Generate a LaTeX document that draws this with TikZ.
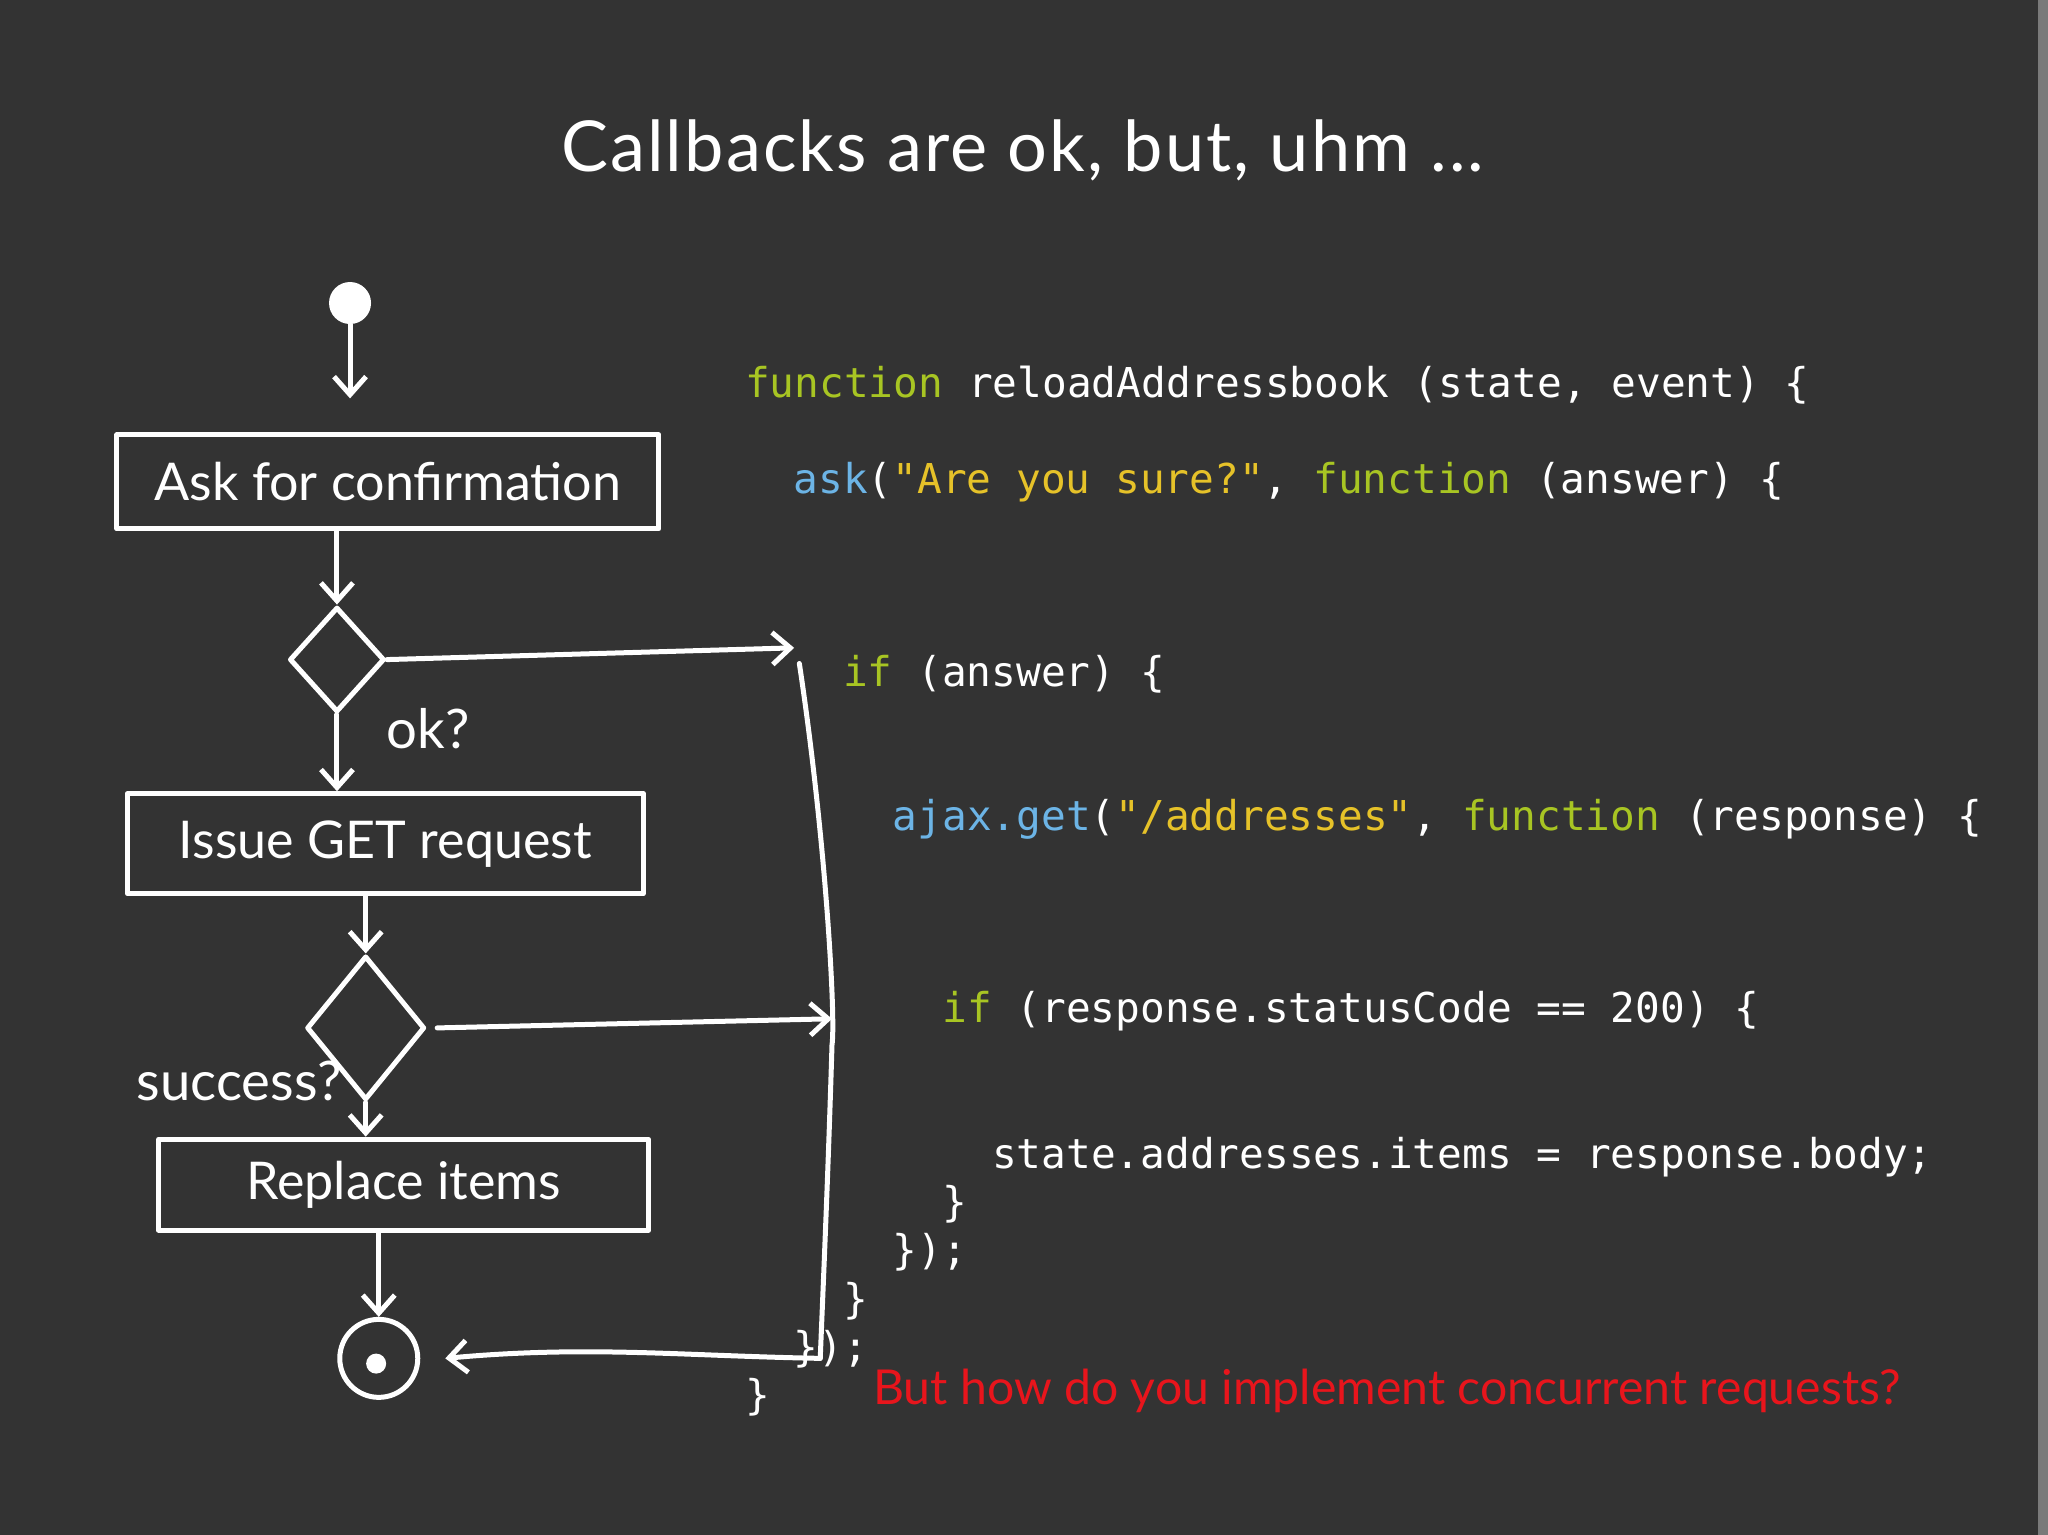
\documentclass[tikz,border=0pt]{standalone}
\usepackage{fontspec}
\setmainfont{Lato}
\setmonofont{DejaVu Sans Mono}
\usetikzlibrary{shapes.geometric,arrows.meta}
\definecolor{bg}{HTML}{333333}
\definecolor{kw}{HTML}{A8C523}
\definecolor{str}{HTML}{E6C229}
\definecolor{fn}{HTML}{6CB4E6}
\definecolor{warn}{HTML}{E8151C}
\begin{document}
\begin{tikzpicture}[x=0.01306cm,y=-0.01306cm,
  hand/.style={draw=white,line width=0.05cm,line cap=round,line join=round},
  box/.style={hand,rectangle,text=white,font=\fontsize{14.8}{18}\selectfont,inner sep=0pt},
  dia/.style={hand,diamond,inner sep=0pt},
  arr/.style={hand,-{Straight Barb[length=0.18cm,width=0.32cm]}},
  code/.style={anchor=west,text=white,font=\ttfamily\fontsize{11.7}{14}\selectfont,inner sep=0pt},
  lab/.style={text=white,font=\fontsize{15.5}{19}\selectfont,inner sep=0pt}]
\fill[bg] (0,0) rectangle (1568,1175);
\fill[white!35!bg] (1560,0) rectangle (1568,1175);
\useasboundingbox (0,0) rectangle (1568,1175);
\node[text=white,font=\fontsize{20}{24}\selectfont\addfontfeatures{LetterSpace=3}] (title) at (783,115) {Callbacks are ok, but, uhm ...};
% flowchart
\node[circle,fill=white,minimum size=0.42cm,inner sep=0pt] (start) at (268,232) {};
\node[box,minimum width=5.42cm,minimum height=0.94cm] (ask) at (297,369) {Ask for confirmation};
\node[dia,minimum width=0.95cm,minimum height=1.05cm] (d1) at (258,505) {};
\node[lab] (ok) at (328,558) {ok?};
\node[box,minimum width=5.16cm,minimum height=1.0cm] (issue) at (295,646) {Issue GET request};
\node[dia,minimum width=1.18cm,minimum height=1.44cm] (d2) at (280,787) {};
\node[lab] (succ) at (183,828) {success?};
\node[box,minimum width=4.9cm,minimum height=0.91cm] (repl) at (309,907) {Replace items};
\node[hand,circle,minimum size=0.78cm,inner sep=0pt] (endc) at (290,1040) {};
\node[circle,fill=white,minimum size=0.2cm,inner sep=0pt] (endd) at (288,1044) {};
\draw[arr] (start) -- (268,305);
\draw[arr] (ask.south -| d1) -- (d1.north);
\draw[arr] (d1.south) -- (d1.south |- issue.north);
\draw[arr] (issue.south -| d2) -- (d2.north);
\draw[arr] (d2.south) -- (d2.south |- repl.north);
\draw[arr] (repl.south -| endc) -- (endc.north);
\coordinate (r1) at (608,496);
\coordinate (r2) at (637,780);
\coordinate (r3) at (628,1040);
\draw[arr] (d1.east) -- (r1);
\draw[arr] ([xshift=0.1cm]d2.east) -- (r2);
\draw[hand] (612,508) .. controls (632,640) and (640,780) .. (637,800) .. controls (634,900) and (630,990) .. (r3);
\draw[arr] (r3) .. controls (520,1038) and (450,1030) .. ([xshift=0.25cm]endc.east);
% code
\node[code] (c1) at (570,295) {\textcolor{kw}{function} reloadAddressbook (state, event) \{};
\node[code] (c2) at (607,369) {\textcolor{fn}{ask}(\textcolor{str}{"Are you sure?"}, \textcolor{kw}{function} (answer) \{};
\node[code] (c3) at (645,516) {\textcolor{kw}{if} (answer) \{};
\node[code] (c4) at (683,627) {\textcolor{fn}{ajax.get}(\textcolor{str}{"/addresses"}, \textcolor{kw}{function} (response) \{};
\node[code] (c5) at (721,774) {\textcolor{kw}{if} (response.statusCode == 200) \{};
\node[code] (c6) at (759,886) {state.addresses.items = response.body;};
\node[code] (c7) at (721,922) {\}};
\node[code] (c8) at (683,959) {\});};
\node[code] (c9) at (645,996) {\}};
\node[code] (c10) at (607,1033) {\});};
\node[code] (c11) at (570,1070) {\}};
\node[anchor=west,text=warn,font=\fontsize{13.7}{16}\selectfont,inner sep=0pt] (q) at (668,1065) {But how do you implement concurrent requests?};
\end{tikzpicture}
\end{document}
